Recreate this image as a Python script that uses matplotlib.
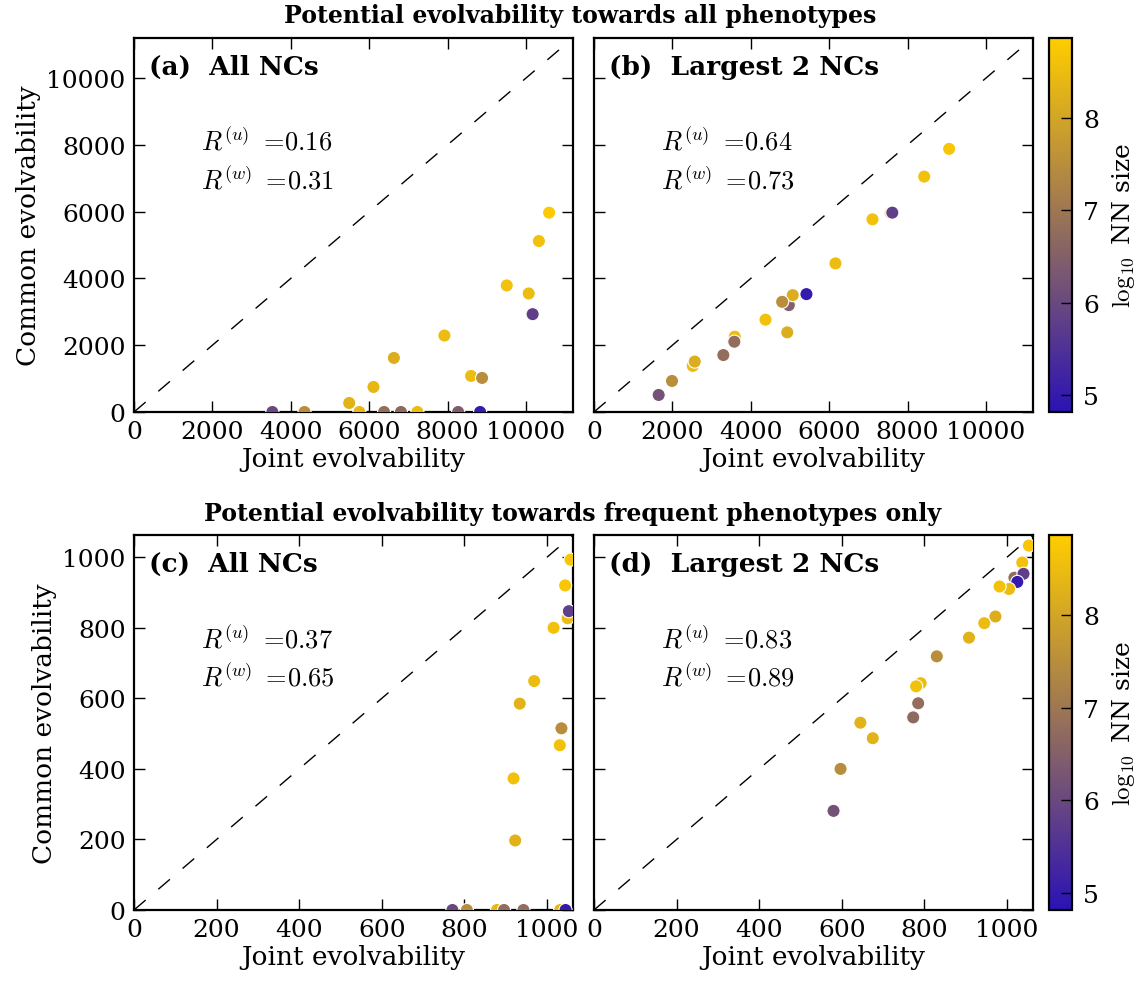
import numpy as np
import matplotlib
matplotlib.use("Agg")
import matplotlib.pyplot as plt
from matplotlib.colors import LinearSegmentedColormap, Normalize

plt.rcParams['font.family'] = ['DejaVu Serif']
plt.rcParams['mathtext.fontset'] = 'cm'

# ---- (a) all NCs, all phenotypes ----
a_joint = [10590, 10330, 9510, 10070, 10170, 7920, 6630, 6110, 8600, 8880, 5490,
           3530, 4350, 5750, 6380, 6810, 7230, 8270, 8830]
a_common = [5970, 5120, 3790, 3550, 2930, 2290, 1620, 750, 1080, 1020, 270,
            0, 0, 0, 0, 0, 0, 0, 0]
a_size = [8.8, 8.6, 8.6, 8.5, 5.8, 8.5, 8.2, 8.4, 8.5, 7.5, 8.3,
          6.0, 7.5, 8.4, 6.8, 6.7, 8.5, 6.4, 5.0]

# ---- (b) largest 2 NCs, all phenotypes ----
b_joint = [9060, 8425, 7570, 7610, 7105, 6160, 5420, 4970, 5070, 4800, 4375,
           4930, 3590, 3580, 3300, 2520, 2570, 1990, 1650]
b_common = [7880, 7050, 5960, 5970, 5770, 4450, 3530, 3200, 3500, 3300, 2765,
            2385, 2255, 2105, 1705, 1380, 1510, 930, 510]
b_size = [8.7, 8.6, 8.6, 5.8, 8.6, 8.5, 5.0, 6.5, 8.2, 7.5, 8.6,
          8.2, 8.5, 6.8, 6.8, 8.5, 8.2, 7.5, 6.2]

# ---- (c) all NCs, frequent phenotypes ----
c_joint = [1057, 1044, 1050, 1053, 1016, 969, 934, 1035, 1031, 919, 923,
           771, 806, 879, 896, 943, 1032, 1045]
c_common = [993, 920, 827, 847, 800, 649, 585, 515, 467, 373, 197,
            0, 0, 0, 0, 0, 0, 0]
c_size = [8.7, 8.7, 8.5, 5.8, 8.6, 8.5, 8.3, 7.5, 8.6, 8.6, 8.3,
          6.0, 7.5, 8.4, 6.8, 6.8, 8.4, 5.0]

# ---- (d) largest 2 NCs, frequent phenotypes ----
d_joint = [1053, 1037, 1018, 1040, 1025, 1005, 982, 972, 945, 908, 830,
           791, 780, 785, 773, 645, 675, 597, 580]
d_common = [1033, 985, 942, 953, 930, 910, 917, 832, 813, 772, 719,
            643, 634, 586, 546, 531, 487, 400, 281]
d_size = [8.7, 8.6, 6.8, 5.8, 5.0, 8.5, 8.6, 8.2, 8.5, 8.3, 7.5,
          8.5, 8.6, 6.8, 6.7, 8.3, 8.3, 7.5, 6.2]

panel_labels = ["(a)  All NCs", "(b)  Largest 2 NCs", "(c)  All NCs", "(d)  Largest 2 NCs"]
r_u = ["0.16", "0.64", "0.37", "0.83"]
r_w = ["0.31", "0.73", "0.65", "0.89"]
row_titles = ["Potential evolvability towards all phenotypes",
              "Potential evolvability towards frequent phenotypes only"]
top_ticks = [0, 2000, 4000, 6000, 8000, 10000]
bottom_ticks = [0, 200, 400, 600, 800, 1000]
cbar_ticks = [5, 6, 7, 8]

top_lim = 11200
bottom_lim = 1063
size_min, size_max = 4.816, 8.867

cmap = LinearSegmentedColormap.from_list("nn", ["#2c12b4", "#ffcd00"])
norm = Normalize(vmin=size_min, vmax=size_max)

W, H = 1144, 987
fig = plt.figure(figsize=(W / 100, H / 100), dpi=100)

def box(l, t, r, b):
    return [l / W, 1 - b / H, (r - l) / W, (b - t) / H]

axes_boxes = [box(134, 39, 573, 413), box(594, 39, 1033, 413),
              box(134, 536, 573, 911), box(594, 536, 1033, 911)]
data = [(a_joint, a_common, a_size), (b_joint, b_common, b_size),
        (c_joint, c_common, c_size), (d_joint, d_common, d_size)]
lims = [top_lim, top_lim, bottom_lim, bottom_lim]
ticks = [top_ticks, top_ticks, bottom_ticks, bottom_ticks]

for i in range(4):
    ax = fig.add_axes(axes_boxes[i])
    x, y, s = data[i]
    lim = lims[i]
    ax.plot([0, lim], [0, lim], ls=(0, (11, 12)), color='k', lw=1.0, zorder=1)
    ax.scatter(x, y, c=s, cmap=cmap, norm=norm, s=90, edgecolors='white',
               linewidths=0.8, zorder=3)
    ax.set_xlim(0, lim)
    ax.set_ylim(0, lim)
    ax.set_xticks(ticks[i])
    ax.set_yticks(ticks[i])
    ax.tick_params(direction='in', length=8, width=1, top=True, right=True,
                   labelsize=18, pad=6)
    if i % 2 == 1:
        ax.set_yticklabels([])
    else:
        ax.set_ylabel("Common evolvability", fontsize=19)
    ax.set_xlabel("Joint evolvability", fontsize=19, labelpad=2)
    for sp in ax.spines.values():
        sp.set_linewidth(1.6)
    ax.text(0.034, 0.925, panel_labels[i], transform=ax.transAxes,
            fontsize=19, fontweight='bold', va='center', ha='left')
    ax.text(0.153, 0.725, r'$R^{(u)}\ =\!%s$' % r_u[i], transform=ax.transAxes,
            fontsize=19, va='center', ha='left')
    ax.text(0.153, 0.623, r'$R^{(w)}\ =\!%s$' % r_w[i], transform=ax.transAxes,
            fontsize=19, va='center', ha='left')

for top, bottom in [(39, 413), (536, 911)]:
    cax = fig.add_axes(box(1049, top, 1072, bottom))
    cb = fig.colorbar(plt.cm.ScalarMappable(norm=norm, cmap=cmap), cax=cax,
                      ticks=cbar_ticks)
    cb.outline.set_linewidth(1.6)
    cax.tick_params(direction='in', length=8, width=1, labelsize=18, pad=8)
    cb.set_label(r'$\log_{10}$ NN size', fontsize=18, labelpad=8)

fig.text(580 / W, 1 - 16 / H, row_titles[0], ha='center', va='center',
         fontsize=17, fontweight='bold')
fig.text(573 / W, 1 - 514 / H, row_titles[1], ha='center', va='center',
         fontsize=17, fontweight='bold')

fig.savefig("out.png", dpi=100)
